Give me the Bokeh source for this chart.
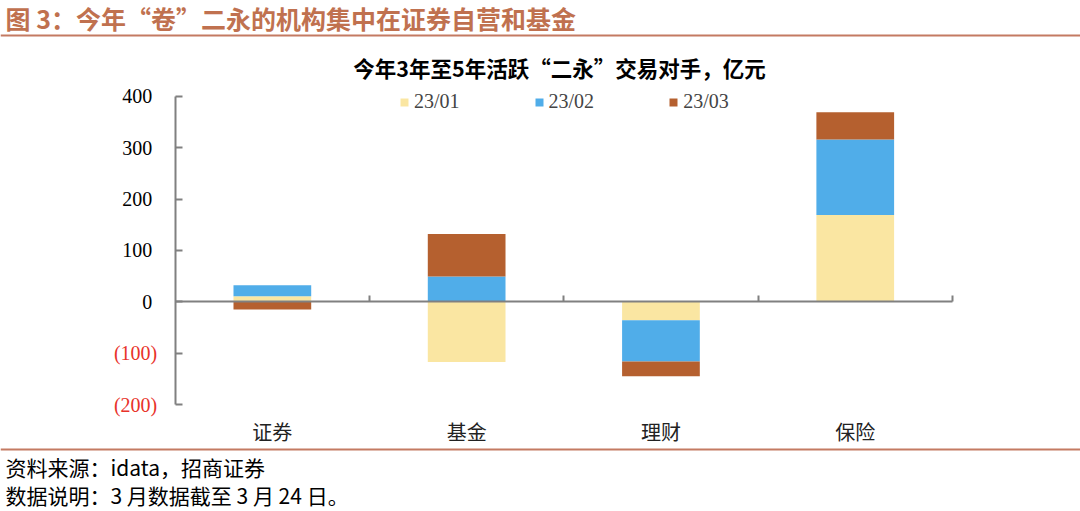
from bokeh.plotting import figure
from bokeh.models import (ColumnDataSource, Range1d, FixedTicker, CustomJSTickFormatter,
                          Span, Label, Legend, LegendItem, LinearAxis)
from bokeh.embed import file_html
from bokeh.resources import INLINE

# ---- data ----
categories = ["证券", "基金", "理财", "保险"]
series_names = ["23/01", "23/02", "23/03"]
v_2301 = [11, -117, -36, 169]
v_2302 = [21, 49, -80, 147]
v_2303 = [-15, 83, -29, 53]
y_ticks = [-200, -100, 0, 100, 200, 300, 400]
neg_ticks = [-200, -100]
neg_tick_labels = {-200: "(200)", -100: "(100)"}

header_text = "图 3：今年“卷”二永的机构集中在证券自营和基金"
chart_title = "今年3年至5年活跃“二永”交易对手，亿元"
source_note = "资料来源：idata，招商证券"
data_note = "数据说明：3 月数据截至 3 月 24 日。"

colors = ["#FAE6A2", "#50ADE9", "#B5602F"]
GRAY = "#808080"
BROWN_TXT = "#C0714F"
RULE = "#C47A62"
RED = "#E8322A"
CJK = "Noto Sans CJK SC"
SERIF = "Liberation Serif"

# ---- geometry (pixels inside the figure) ----
W, H = 1080, 511
AX_X = 174.7          # pixel of the y axis (start of first category)
CAT_W = 194.3         # pixels per category
Y0_PX, Y400_PX = 301.3, 95.7
K = (Y0_PX - Y400_PX) / 400.0   # pixels per unit
XL = -AX_X / CAT_W
XR = (W - AX_X) / CAT_W
YT = Y0_PX / K
YB = -(H - Y0_PX) / K

def fx(px):
    return XL + px / CAT_W

def fy(py):
    return YT - py / K

n = len(categories)
xpos = [i + 0.5 for i in range(n)]

p = figure(width=W, height=H, output_backend="svg", toolbar_location=None,
           x_range=Range1d(XL, XR), y_range=Range1d(YB, YT),
           x_axis_type=None, y_axis_type=None, title=None,
           min_border=0, min_border_left=0, min_border_right=0,
           min_border_top=0, min_border_bottom=0)
p.outline_line_color = None
p.background_fill_color = "white"
p.border_fill_color = "white"

# stacked bars: positives stack upward from 0, negatives downward from 0
pos_base = [0.0] * n
neg_base = [0.0] * n
items = []
for name, vals, col in zip(series_names, [v_2301, v_2302, v_2303], colors):
    bottoms, tops = [], []
    for i, v in enumerate(vals):
        if v >= 0:
            b = pos_base[i]; t = b + v; pos_base[i] = t
        else:
            t = neg_base[i]; b = t + v; neg_base[i] = b
        bottoms.append(b); tops.append(t)
    src = ColumnDataSource(dict(x=xpos, bottom=bottoms, top=tops, cat=categories))
    r = p.vbar(x="x", bottom="bottom", top="top", width=0.4, source=src,
               fill_color=col, line_color=None)
    items.append(LegendItem(label=name, renderers=[r]))

# zero line axis with upward ticks at category boundaries
zax = LinearAxis(fixed_location=0, bounds=(0, n),
                 ticker=FixedTicker(ticks=[i + 1 for i in range(n)]),
                 formatter=CustomJSTickFormatter(code="return '';"))
zax.axis_line_color = GRAY
zax.axis_line_width = 2
zax.major_tick_line_color = GRAY
zax.major_tick_line_width = 2
zax.major_tick_in = 6
zax.major_tick_out = 0
zax.minor_tick_line_color = None
p.add_layout(zax, "below")

# category label axis
cax = LinearAxis(fixed_location=-200, ticker=FixedTicker(ticks=xpos),
                 major_label_overrides={x: c for x, c in zip(xpos, categories)})
cax.axis_line_color = None
cax.major_tick_line_color = None
cax.minor_tick_line_color = None
cax.major_tick_in = 0
cax.major_tick_out = 0
cax.major_label_standoff = 12
cax.major_label_text_font = CJK
cax.major_label_text_font_size = "20px"
cax.major_label_text_color = "#222222"
p.add_layout(cax, "below")

# value axis
yax = LinearAxis(fixed_location=0, bounds=(min(y_ticks), max(y_ticks)),
                 ticker=FixedTicker(ticks=y_ticks),
                 formatter=CustomJSTickFormatter(code="return tick < 0 ? '' : tick.toFixed(0);"))
yax.axis_line_color = GRAY
yax.axis_line_width = 2
yax.major_tick_line_color = GRAY
yax.major_tick_line_width = 2
yax.major_tick_in = 7
yax.major_tick_out = 0
yax.minor_tick_line_color = None
yax.major_label_standoff = 23
yax.major_label_text_font = SERIF
yax.major_label_text_font_size = "20px"
yax.major_label_text_color = "black"
p.add_layout(yax, "left")

# negative tick labels in red (accounting style)
nax = LinearAxis(fixed_location=0, ticker=FixedTicker(ticks=neg_ticks),
                 major_label_overrides=neg_tick_labels)
nax.axis_line_color = None
nax.major_tick_line_color = None
nax.minor_tick_line_color = None
nax.major_tick_in = 0
nax.major_tick_out = 0
nax.major_label_standoff = 18
nax.major_label_text_font = SERIF
nax.major_label_text_font_size = "20px"
nax.major_label_text_color = RED
p.add_layout(nax, "left")

# legend
leg = Legend(items=items, orientation="horizontal", location=(399, 398),
             glyph_width=10, glyph_height=10, label_standoff=5, spacing=74,
             padding=0, margin=0, border_line_color=None, background_fill_alpha=0,
             label_text_font=SERIF, label_text_font_size="20px")
p.add_layout(leg, "center")

# header, chart title, rules and notes
p.add_layout(Label(x=fx(5), y=fy(17), text=header_text, text_align="left",
                   text_baseline="middle", text_font=CJK, text_font_size="25px",
                   text_font_style="bold", text_color=BROWN_TXT))
p.add_layout(Span(location=fy(35), dimension="width", line_color=RULE, line_width=2))
p.add_layout(Label(x=fx(559), y=fy(67), text=chart_title, text_align="center",
                   text_baseline="middle", text_font=CJK, text_font_size="21.5px",
                   text_font_style="bold", text_color="black"))
p.add_layout(Span(location=fy(449), dimension="width", line_color=RULE, line_width=2))
p.add_layout(Label(x=fx(5), y=fy(466), text=source_note, text_align="left",
                   text_baseline="middle", text_font=CJK, text_font_size="21px",
                   text_color="black"))
p.add_layout(Label(x=fx(5), y=fy(494), text=data_note, text_align="left",
                   text_baseline="middle", text_font=CJK, text_font_size="21px",
                   text_color="black"))

open("out.html", "w").write(file_html(p, INLINE))
